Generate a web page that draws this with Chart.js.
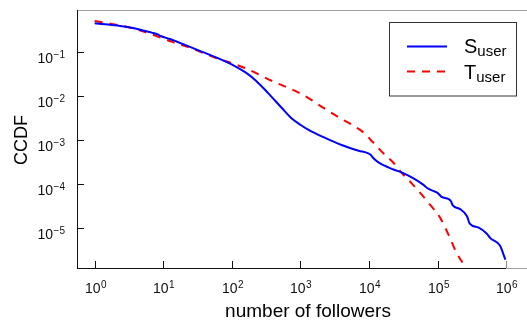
<!DOCTYPE html>
<html>
<head>
<meta charset="utf-8">
<script src="https://cdn.jsdelivr.net/npm/chart.js@4/dist/chart.umd.min.js"></script>
<style>
html,body{margin:0;padding:0;background:#fff;}
#wrap{width:527px;height:320px;position:relative;}
</style>
</head>
<body>
<div id="wrap"><canvas id="c" width="527" height="320"></canvas></div>
<script>
// ---- data ----
const sUserFollowers = [1, 1.585, 3.162, 6.761, 8.318, 9.120, 12.59, 20.75, 36.31, 63.10, 112.2, 158.5, 218.8, 338.8, 537.0, 741.3, 1000, 1318, 2291, 3981, 7079, 9772, 10470, 11750, 14130, 22910, 31620, 44670, 60260, 74130, 91200, 100000, 114800, 144500, 158500, 166000, 213800, 269200, 295100, 398100, 524800, 588800, 812800, 977200];
const sUserCcdf = [0.456, 0.427, 0.372, 0.279, 0.254, 0.234, 0.1995, 0.1466, 0.1033, 0.0729, 0.0479, 0.0347, 0.0234, 0.01175, 0.00537, 0.00316, 0.00224, 0.0017, 0.00112, 0.000776, 0.000575, 0.000501, 0.000468, 0.00038, 0.000302, 0.000214, 0.000178, 0.000135, 0.0001, 7.76e-5, 6.76e-5, 6.31e-5, 5.13e-5, 4.57e-5, 3.98e-5, 3.31e-5, 2.69e-5, 1.86e-5, 1.26e-5, 1.02e-5, 7.41e-6, 5.89e-6, 3.98e-6, 1.91e-6];
const tUserFollowers = [1, 1.778, 3.090, 5.129, 7.943, 13.18, 21.88, 36.31, 60.26, 100, 154.9, 407.4, 1047, 2399, 3802, 5623, 7943, 11480, 16220, 22910, 30200, 41690, 58880, 77620, 109600, 144500, 190500, 263000, 288400];
const tUserCcdf = [0.514, 0.440, 0.372, 0.295, 0.234, 0.174, 0.1349, 0.1, 0.0724, 0.0562, 0.0437, 0.0214, 0.01109, 0.0049, 0.00316, 0.00224, 0.00158, 0.000891, 0.000501, 0.000302, 0.000178, 0.000105, 5.75e-5, 3.39e-5, 1.70e-5, 7.08e-6, 2.69e-6, 1.23e-6, 1.0e-6];
const seriesNames = ["S", "T"];
const seriesSub = "user";
const xTickExponents = [0, 1, 2, 3, 4, 5, 6];
const yTickExponents = [-1, -2, -3, -4, -5];
const xTitle = "number of followers";
const yTitle = "CCDF";

const FONT = '"Liberation Sans", Arial, Helvetica, sans-serif';
const toPts = (xs, ys) => xs.map((x, i) => ({x: x, y: ys[i]}));
const expStr = e => (e < 0 ? "\u2212" + (-e) : String(e));

const decor = {
  id: 'decor',
  afterDraw(chart) {
    const ctx = chart.ctx;
    const xs = chart.scales.x, ys = chart.scales.y;
    const a = chart.chartArea;
    ctx.save();
    // top border (gray)
    ctx.strokeStyle = '#a0a0a0';
    ctx.lineWidth = 1;
    ctx.beginPath(); ctx.moveTo(a.left, a.top + 0.5); ctx.lineTo(a.right, a.top + 0.5); ctx.stroke();
    // bottom axis
    const x6 = xs.getPixelForValue(Math.pow(10, 6));
    ctx.strokeStyle = '#111';
    ctx.beginPath(); ctx.moveTo(a.left, a.bottom + 0.5); ctx.lineTo(x6, a.bottom + 0.5); ctx.stroke();
    ctx.strokeStyle = '#a0a0a0';
    ctx.beginPath(); ctx.moveTo(x6, a.bottom + 0.5); ctx.lineTo(a.right, a.bottom + 0.5); ctx.stroke();
    // left axis
    ctx.strokeStyle = '#111';
    ctx.beginPath(); ctx.moveTo(a.left + 0.5, a.top); ctx.lineTo(a.left + 0.5, a.bottom + 1); ctx.stroke();

    // x ticks + labels
    xTickExponents.forEach(e => {
      const px = Math.round(xs.getPixelForValue(Math.pow(10, e))) + 0.5;
      ctx.strokeStyle = e === 6 ? '#888' : '#111';
      ctx.beginPath(); ctx.moveTo(px, a.bottom); ctx.lineTo(px, a.bottom - 7); ctx.stroke();
      ctx.fillStyle = '#111';
      ctx.font = '14px ' + FONT;
      const w1 = ctx.measureText('10').width;
      ctx.font = '10px ' + FONT;
      const es = expStr(e);
      const w2 = ctx.measureText(es).width;
      const sx = px - (w1 + w2) / 2;
      ctx.textAlign = 'left'; ctx.textBaseline = 'alphabetic';
      ctx.font = '14px ' + FONT;
      ctx.fillText('10', sx, a.bottom + 25);
      ctx.font = '10px ' + FONT;
      ctx.fillText(es, sx + w1 + 0.5, a.bottom + 20);
    });
    // y ticks + labels
    yTickExponents.forEach(e => {
      const py = Math.round(ys.getPixelForValue(Math.pow(10, e))) + 0.5;
      ctx.strokeStyle = '#111';
      ctx.beginPath(); ctx.moveTo(a.left, py); ctx.lineTo(a.left + 7, py); ctx.stroke();
      ctx.fillStyle = '#111';
      const es = expStr(e);
      ctx.font = '10px ' + FONT;
      const w2 = ctx.measureText(es).width;
      const right = a.left - 12;
      ctx.textAlign = 'left'; ctx.textBaseline = 'alphabetic';
      ctx.fillText(es, right - w2, py + 5);
      ctx.font = '14px ' + FONT;
      const w1 = ctx.measureText('10').width;
      ctx.fillText('10', right - w2 - w1 - 0.5, py + 10);
    });
    // axis titles
    ctx.fillStyle = '#000';
    ctx.font = '19px ' + FONT;
    ctx.textAlign = 'center'; ctx.textBaseline = 'alphabetic';
    ctx.fillText(xTitle, 308, 317);
    ctx.save();
    ctx.translate(26.5, 140);
    ctx.rotate(-Math.PI / 2);
    ctx.font = '18px ' + FONT;
    ctx.fillText(yTitle, 0, 0);
    ctx.restore();

    // legend
    ctx.fillStyle = '#fff';
    ctx.fillRect(389.5, 22.5, 127, 73.5);
    ctx.strokeStyle = '#333';
    ctx.lineWidth = 1;
    ctx.strokeRect(389.5, 22.5, 127, 73.5);
    const dsets = chart.data.datasets;
    const rowY = [46.5, 71.5];
    const baseY = [53, 79];
    dsets.forEach((d, i) => {
      ctx.strokeStyle = d.borderColor;
      ctx.lineWidth = 2;
      ctx.setLineDash(d.borderDash || []);
      ctx.beginPath(); ctx.moveTo(407, rowY[i]); ctx.lineTo(447, rowY[i]); ctx.stroke();
      ctx.setLineDash([]);
      ctx.fillStyle = '#000';
      ctx.textAlign = 'left';
      ctx.font = '20px ' + FONT;
      ctx.fillText(seriesNames[i], 464, baseY[i]);
      const wS = ctx.measureText(seriesNames[i]).width;
      ctx.font = '15px ' + FONT;
      ctx.fillText(seriesSub, 464 + wS, baseY[i] + 3);
    });
    ctx.restore();
  }
};

new Chart(document.getElementById('c'), {
  type: 'line',
  data: {
    datasets: [
      {
        label: 'S_user',
        data: toPts(sUserFollowers, sUserCcdf),
        borderColor: '#0000ff',
        borderWidth: 2,
        pointRadius: 0,
        cubicInterpolationMode: 'monotone',
        fill: false
      },
      {
        label: 'T_user',
        data: toPts(tUserFollowers, tUserCcdf),
        borderColor: '#ff0000',
        borderWidth: 2,
        borderDash: [8, 7],
        pointRadius: 0,
        cubicInterpolationMode: 'monotone',
        fill: false
      }
    ]
  },
  options: {
    responsive: false,
    animation: false,
    devicePixelRatio: 1,
    layout: { padding: { left: 77, top: 10, right: 0, bottom: 52 } },
    plugins: { legend: { display: false }, tooltip: { enabled: false } },
    scales: {
      x: { type: 'logarithmic', min: 0.552, max: 2.02e6, display: false },
      y: { type: 'logarithmic', min: 1.23e-6, max: 0.914, display: false }
    }
  },
  plugins: [decor]
});
</script>
</body>
</html>
